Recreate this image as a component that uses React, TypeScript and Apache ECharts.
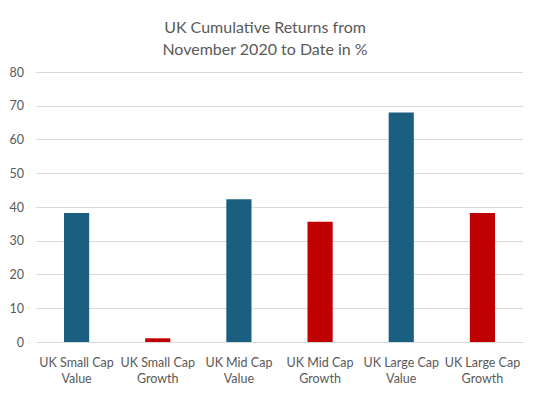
import React, { useEffect, useRef } from "react";
import * as echarts from "echarts";

const categories = [
  "UK Small Cap\nValue",
  "UK Small Cap\nGrowth",
  "UK Mid Cap\nValue",
  "UK Mid Cap\nGrowth",
  "UK Large Cap\nValue",
  "UK Large Cap\nGrowth",
];
const values = [38.2, 1.1, 42.3, 35.6, 68.0, 38.2];
const barColors = ["#1a5e80", "#c00000", "#1a5e80", "#c00000", "#1a5e80", "#c00000"];
const titleText = "UK Cumulative Returns from\nNovember 2020 to Date in %";

export default function App() {
  const ref = useRef<HTMLDivElement>(null);
  useEffect(() => {
    if (!ref.current) return;
    const chart = echarts.init(ref.current, null, { renderer: "svg" });
    const font = "Lato, 'Noto Sans', sans-serif";
    chart.setOption({
      animation: false,
      backgroundColor: "#ffffff",
      title: {
        text: titleText,
        left: 260,
        top: 10,
        textAlign: "center",
        textStyle: {
          fontFamily: font,
          fontSize: 16,
          fontWeight: "normal",
          color: "#595959",
          lineHeight: 22,
        },
      },
      grid: { left: 36, right: 17, top: 72, bottom: 52, containLabel: false },
      xAxis: {
        type: "category",
        data: categories,
        axisLine: { lineStyle: { color: "#d9d9d9" } },
        axisTick: { show: false },
        axisLabel: {
          interval: 0,
          fontFamily: font,
          fontSize: 12.5,
          color: "#595959",
          lineHeight: 16,
          margin: 12,
        },
      },
      yAxis: {
        type: "value",
        min: 0,
        max: 80,
        interval: 10,
        axisLine: { show: false },
        axisTick: { show: false },
        splitLine: { lineStyle: { color: "#d9d9d9" } },
        axisLabel: {
          fontFamily: font,
          fontSize: 12.5,
          color: "#595959",
          margin: 12,
        },
      },
      series: [
        {
          type: "bar",
          data: values.map((v, i) => ({ value: v, itemStyle: { color: barColors[i] } })),
          barWidth: "31%",
        },
      ],
    });
    return () => chart.dispose();
  }, []);
  return (
    <div
      ref={ref}
      style={{ position: "fixed", left: 0, top: 0, width: 540, height: 394 }}
    />
  );
}
